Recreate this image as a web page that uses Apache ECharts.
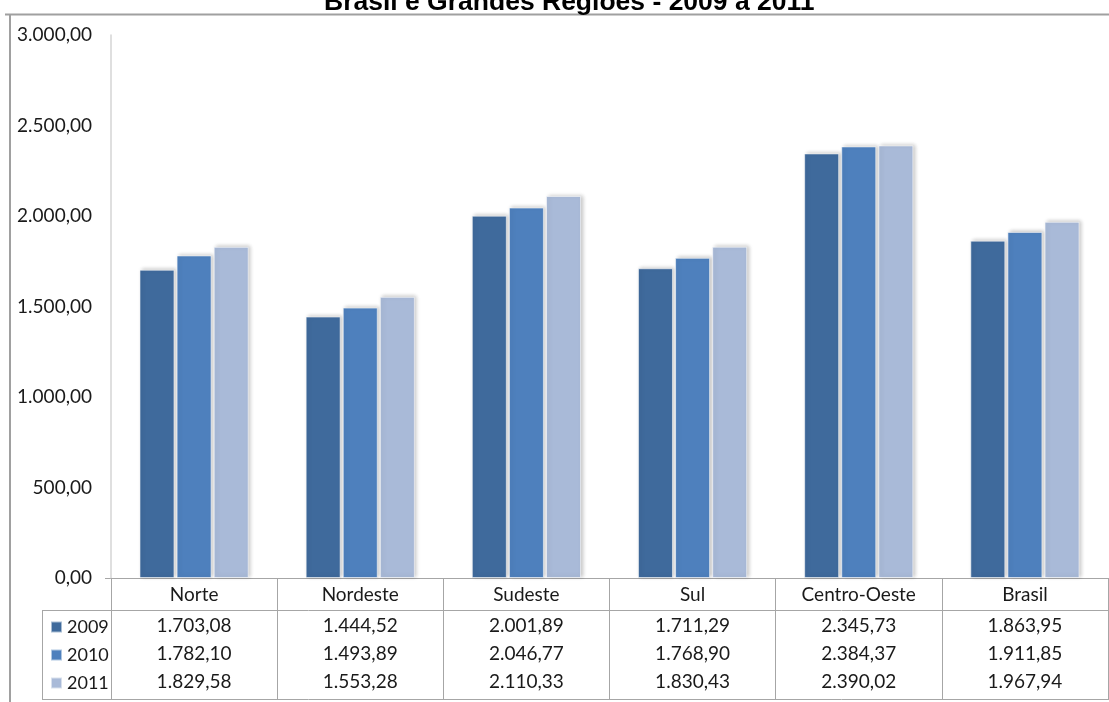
<!DOCTYPE html>
<html>
<head>
<meta charset="utf-8">
<script src="https://cdn.jsdelivr.net/npm/echarts@6/dist/echarts.min.js"></script>
<style>
  html, body { margin: 0; padding: 0; background: #fff; }
  #chart { width: 1109px; height: 702px; }
</style>
</head>
<body>
<div id="chart"></div>
<script>
// Regions and yearly values
const regions = ['Norte', 'Nordeste', 'Sudeste', 'Sul', 'Centro-Oeste', 'Brasil'];
const years = ['2009', '2010', '2011'];
const values2009 = [1703.08, 1444.52, 2001.89, 1711.29, 2345.73, 1863.95];
const values2010 = [1782.10, 1493.89, 2046.77, 1768.90, 2384.37, 1911.85];
const values2011 = [1829.58, 1553.28, 2110.33, 1830.43, 2390.02, 1967.94];
const yTicks = [0, 500, 1000, 1500, 2000, 2500, 3000];
const titleText = 'Brasil e Grandes Regiões - 2009 a 2011';

const colors = ['#3F6A9C', '#4E80BD', '#A9BAD8'];
const lineGrey = '#a6a6a6';
const font = 'Lato, "Open Sans", sans-serif';

// Brazilian number format: 1.703,08
function fmt(v) {
  const parts = v.toFixed(2).split('.');
  parts[0] = parts[0].replace(/\B(?=(\d{3})+(?!\d))/g, '.');
  return parts[0] + ',' + parts[1];
}

const seriesValues = [values2009, values2010, values2011];

const chart = echarts.init(document.getElementById('chart'), null, { renderer: 'canvas' });

// One extra category axis per year forms each row of the data table
const rowAxes = seriesValues.map((vals, i) => ({
  type: 'category',
  gridIndex: 0,
  position: 'bottom',
  offset: 32 + i * 28,
  data: vals.map(fmt),
  axisLine: { show: false },
  axisTick: { show: false },
  axisLabel: { margin: 6, fontFamily: font, fontSize: 19, lineHeight: 20, color: '#1a1a1a' }
}));

chart.setOption({
  animation: false,
  title: {
    text: titleText,
    left: 319,
    top: -16,
    textStyle: { fontFamily: '"Liberation Sans", Arial, sans-serif', fontWeight: 'bold', fontSize: 26.5, color: '#000' }
  },
  legend: {
    orient: 'vertical',
    left: 50,
    top: 616,
    padding: 0,
    itemGap: 6,
    itemWidth: 11,
    itemHeight: 11,
    icon: 'rect',
    selectedMode: false,
    data: years,
    textStyle: { fontFamily: font, fontSize: 18, lineHeight: 22, color: '#1a1a1a' }
  },
  grid: { left: 111, right: 1, top: 35, bottom: 124, containLabel: false },
  xAxis: [{
    type: 'category',
    data: regions,
    axisLine: { show: true, lineStyle: { color: lineGrey, width: 1 } },
    axisTick: { show: true, length: 122, interval: 0, lineStyle: { color: lineGrey, width: 1 } },
    axisLabel: { margin: 7, fontFamily: font, fontSize: 19, lineHeight: 20, color: '#1a1a1a', interval: 0 }
  }].concat(rowAxes),
  yAxis: {
    type: 'value',
    min: yTicks[0],
    max: yTicks[yTicks.length - 1],
    interval: yTicks[1] - yTicks[0],
    axisLine: { show: true, lineStyle: { color: '#d4d4d4', width: 1.5 } },
    axisTick: { show: false },
    splitLine: { show: false },
    axisLabel: { margin: 19, fontFamily: font, fontSize: 19, color: '#1a1a1a', formatter: fmt }
  },
  series: years.map((y, i) => ({
    name: y,
    type: 'bar',
    data: seriesValues[i],
    barWidth: 35,
    barGap: '6%',
    itemStyle: {
      color: colors[i],
      borderColor: 'rgba(255,255,255,0.55)',
      borderWidth: 1,
      shadowColor: 'rgba(0,0,0,0.22)',
      shadowBlur: 4,
      shadowOffsetX: 2,
      shadowOffsetY: -1
    }
  })),
  graphic: [
    // outer frame
    { type: 'line', shape: { x1: 5, y1: 14.5, x2: 1109, y2: 14.5 }, style: { stroke: '#a0a0a0', lineWidth: 2 } },
    { type: 'line', shape: { x1: 10, y1: 14, x2: 10, y2: 702 }, style: { stroke: '#a0a0a0', lineWidth: 2 } },
    // zero tick to the left of the axis
    { type: 'line', shape: { x1: 105, y1: 578.5, x2: 111, y2: 578.5 }, style: { stroke: lineGrey, lineWidth: 1 } },
    // table rules
    { type: 'line', shape: { x1: 42, y1: 610.5, x2: 1108, y2: 610.5 }, style: { stroke: lineGrey, lineWidth: 1 } },
    { type: 'line', shape: { x1: 42, y1: 699.5, x2: 1108, y2: 699.5 }, style: { stroke: lineGrey, lineWidth: 1 } },
    { type: 'line', shape: { x1: 42.5, y1: 610, x2: 42.5, y2: 700 }, style: { stroke: lineGrey, lineWidth: 1 } }
  ]
});
</script>
</body>
</html>
